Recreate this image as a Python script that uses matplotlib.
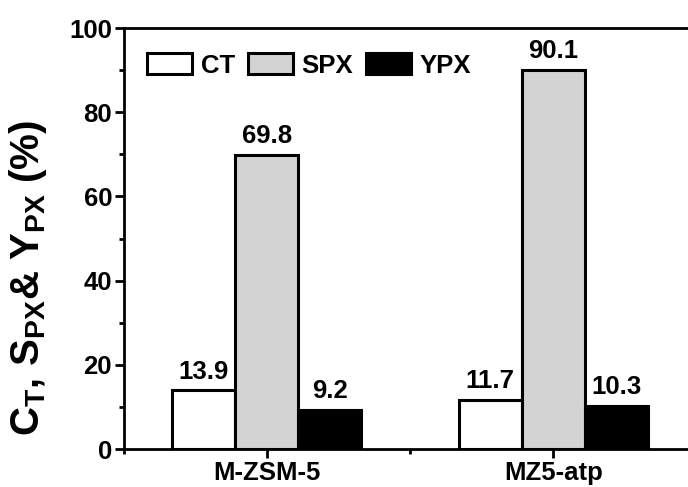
import numpy as np
import matplotlib.pyplot as plt
from matplotlib.ticker import MultipleLocator

plt.rcParams['font.family'] = 'Liberation Sans'
plt.rcParams['font.weight'] = 'bold'
plt.rcParams['mathtext.fontset'] = 'custom'
plt.rcParams['mathtext.rm'] = 'Liberation Sans:bold'
plt.rcParams['mathtext.bf'] = 'Liberation Sans:bold'
plt.rcParams['mathtext.it'] = 'Liberation Sans:bold'
plt.rcParams['mathtext.default'] = 'rm'

# catalysts and measured values (%)
catalysts = ['M-ZSM-5', 'MZ5-atp']
series = ['CT', 'SPX', 'YPX']
ct = [13.9, 11.7]
spx = [69.8, 90.1]
ypx = [9.2, 10.3]

fig = plt.figure(figsize=(6.88, 4.87), dpi=100)
ax = fig.add_axes([0.180, 0.078, 0.832, 0.8645])

x = np.arange(1, len(catalysts) + 1)
w = 0.22
colors = ['white', '#d3d3d3', 'black']
for i, (name, vals, c) in enumerate(zip(series, [ct, spx, ypx], colors)):
    bars = ax.bar(x + (i - 1) * w, vals, w, color=c, edgecolor='black',
                  linewidth=2.2, label=name)
    for b, v in zip(bars, vals):
        ax.annotate(f'{v}', (b.get_x() + b.get_width() / 2, v),
                    xytext=(0, 5), textcoords='offset points',
                    ha='center', va='bottom', fontsize=18.5, fontweight='bold')

ax.set_xlim(0.5, 2.5)
ax.set_ylim(0, 100)
ax.set_xticks(x)
ax.set_xticklabels(catalysts, fontsize=19, fontweight='bold')
ax.xaxis.set_minor_locator(MultipleLocator(0.5))
ax.yaxis.set_major_locator(MultipleLocator(20))
ax.yaxis.set_minor_locator(MultipleLocator(10))
ax.tick_params(axis='both', which='major', direction='out', length=6.5, width=2,
               labelsize=18.5, pad=2)
ax.tick_params(axis='both', which='minor', direction='out', length=3.5, width=2)
for lab in ax.get_yticklabels():
    lab.set_fontweight('bold')
for s in ['left', 'bottom', 'top']:
    ax.spines[s].set_linewidth(2)
ax.spines['right'].set_visible(False)

ax.set_ylabel(r'$C_T$, $S_{PX}$& $Y_{PX}$ (%)', fontsize=29, fontweight='bold')
ax.yaxis.set_label_coords(-0.13, 0.406)

ax.legend(loc='upper left', bbox_to_anchor=(0.022, 0.964), ncol=3, frameon=False,
          fontsize=18.5, handlelength=1.75, handleheight=0.85, handletextpad=0.35,
          columnspacing=0.5, borderaxespad=0)

fig.savefig('out.png', dpi=100)
